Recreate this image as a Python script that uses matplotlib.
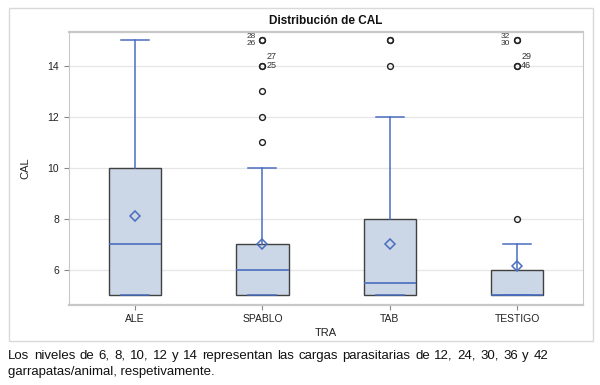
import matplotlib
matplotlib.use("Agg")
import matplotlib.pyplot as plt
from matplotlib.patches import Rectangle

plt.rcParams['font.family'] = ['Liberation Sans', 'DejaVu Sans']

categories = ["ALE", "SPABLO", "TAB", "TESTIGO"]
q1 = [5, 5, 5, 5]
med = [7, 6, 5.5, 5]
q3 = [10, 7, 8, 6]
whislo = [5, 5, 5, 5]
whishi = [15, 10, 12, 7]
means = [8.1, 7.0, 7.0, 6.17]
fliers = [[], [11, 12, 13, 14, 14, 15, 15], [14, 15, 15], [8, 14, 14, 15, 15]]
# outlier labels: (category index, value, text, placement)
flier_labels = [
    (1, 15, "28", "left_up"), (1, 15, "26", "left"),
    (1, 14, "27", "right_up"), (1, 14, "25", "right"),
    (3, 15, "32", "left_up"), (3, 15, "30", "left"),
    (3, 14, "29", "right_up"), (3, 14, "46", "right"),
]
yticks = [6, 8, 10, 12, 14]
caption1 = "Los niveles de 6, 8, 10, 12 y 14 representan las cargas parasitarias de 12, 24, 30, 36 y 42"
caption2 = "garrapatas/animal, respetivamente."

fig = plt.figure(figsize=(6.0, 3.85), dpi=100)
fig.patches.append(Rectangle((0.015, 0.114), 0.973, 0.865, transform=fig.transFigure,
                             fill=False, edgecolor="#D9D9D9", linewidth=1.0))
ax = fig.add_axes([0.115, 0.208, 0.857, 0.709])

blue = "#4A6DBE"
stats = []
for i in range(len(categories)):
    stats.append(dict(med=med[i], q1=q1[i], q3=q3[i], whislo=whislo[i], whishi=whishi[i],
                      mean=means[i], fliers=fliers[i], label=categories[i]))

ax.bxp(stats, positions=range(1, 5), widths=0.41, patch_artist=True, showmeans=True,
       boxprops=dict(facecolor="#CBD6E6", edgecolor="#404040", linewidth=1.0),
       medianprops=dict(color=blue, linewidth=1.2),
       whiskerprops=dict(color=blue, linewidth=1.1),
       capprops=dict(color=blue, linewidth=1.1),
       capwidths=0.22,
       meanprops=dict(marker="D", markerfacecolor="none", markeredgecolor=blue,
                      markersize=5, markeredgewidth=1.1),
       flierprops=dict(marker="o", markerfacecolor="none", markeredgecolor="#222222",
                       markersize=4.2, markeredgewidth=1.0))

for (ci, val, txt, pl) in flier_labels:
    x = ci + 1
    if pl == "left_up":
        ax.annotate(txt, (x, val), xytext=(-5, 2.6), textcoords="offset points",
                    ha="right", va="center", fontsize=6, color="#333333")
    elif pl == "left":
        ax.annotate(txt, (x, val), xytext=(-5, -2.6), textcoords="offset points",
                    ha="right", va="center", fontsize=6, color="#333333")
    elif pl == "right_up":
        ax.annotate(txt, (x, val), xytext=(3, 7), textcoords="offset points",
                    ha="left", va="center", fontsize=6.5, color="#333333")
    else:
        ax.annotate(txt, (x, val), xytext=(3, 0), textcoords="offset points",
                    ha="left", va="center", fontsize=6.5, color="#333333")

ax.set_xlim(0.48, 4.52)
ax.set_ylim(4.63, 15.33)
ax.set_yticks(yticks)
ax.set_xticks(range(1, 5))
ax.set_xticklabels(categories)
ax.yaxis.grid(True, color="#E6E6E6", linewidth=0.9)
ax.set_axisbelow(True)
for s in ax.spines.values():
    s.set_color("#C8C8C8")
ax.spines["bottom"].set_linewidth(1.6)
ax.spines["top"].set_linewidth(1.6)
ax.tick_params(axis="both", colors="#888888", labelcolor="#222222", labelsize=7.5,
               length=3.5, width=0.8)
ax.tick_params(axis="x", pad=3)
ax.set_xlabel("TRA", fontsize=8, color="#222222", labelpad=3)
ax.set_ylabel("CAL", fontsize=8, color="#222222", labelpad=12)
ax.set_title("Distribución de CAL", fontsize=8.5, fontweight="bold", pad=6, color="#111111")

# justified first caption line
renderer = fig.canvas.get_renderer()
words = caption1.split(" ")
x0, x1 = 8 / 600, 548 / 600
y_line1 = 1 - 356 / 385
texts = []
widths = []
for w in words:
    t = fig.text(0, y_line1, w, fontsize=9.5, ha="left", va="center", color="#111111")
    bb = t.get_window_extent(renderer=renderer)
    widths.append(bb.width / fig.bbox.width)
    texts.append(t)
gap = (x1 - x0 - sum(widths)) / (len(words) - 1)
cx = x0
for t, wd in zip(texts, widths):
    t.set_x(cx)
    cx += wd + gap
fig.text(x0, 1 - 372 / 385, caption2, fontsize=9.5, ha="left", va="center", color="#111111")

fig.savefig("out.png", dpi=100)
